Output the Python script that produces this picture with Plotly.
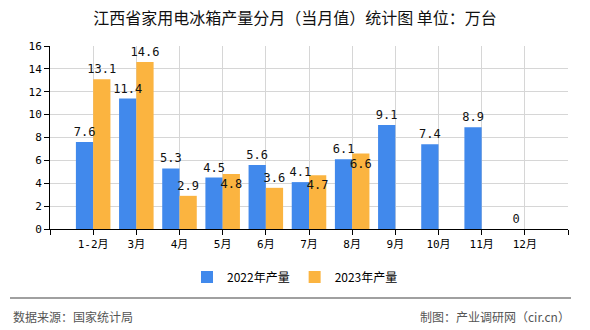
import plotly.graph_objects as go

months = ["1-2月", "3月", "4月", "5月", "6月", "7月", "8月", "9月", "10月", "11月", "12月"]
values_2022 = [7.6, 11.4, 5.3, 4.5, 5.6, 4.1, 6.1, 9.1, 7.4, 8.9, 0]
values_2023 = [13.1, 14.6, 2.9, 4.8, 3.6, 4.7, 6.6, None, None, None, None]
label_pos_2023 = ["outside", "outside", "outside", "inside", "outside", "inside", "inside",
                  "outside", "outside", "outside", "outside"]
series_names = ["2022年产量", "2023年产量"]
y_ticks = [0, 2, 4, 6, 8, 10, 12, 14, 16]

W, H = 590, 330
ML, MR, MT, MB = 50, 22, 46, 101
PW = W - ML - MR
PH = H - MT - MB

def px_to_paper_x(px):
    return (px - ML) / PW

def px_to_paper_y(py):
    return (H - MB - py) / PH

xpos = list(range(1, len(months) + 1))
tickvals = list(range(0, len(months) + 2))
ticktext = [""] + months + [""]

label_font = dict(family="DejaVu Sans Mono, Noto Sans CJK SC", size=12, color="#111")

fig = go.Figure()
fig.add_trace(go.Bar(
    x=xpos, y=values_2022, name=series_names[0], offsetgroup="g2022",
    marker=dict(color="#4189ec", line=dict(width=0)),
    hoverinfo="skip",
))
fig.add_trace(go.Bar(
    x=xpos, y=values_2023, name=series_names[1], offsetgroup="g2023",
    marker=dict(color="#fbb440", line=dict(width=0)),
    texttemplate="%{y}", textposition=label_pos_2023, textfont=label_font,
    insidetextfont=label_font, outsidetextfont=label_font,
    insidetextanchor="end", textangle=0,
    constraintext="none", cliponaxis=False,
))
# 2022 labels drawn on top of all bars (same slot as the 2022 bars)
fig.add_trace(go.Bar(
    x=xpos, y=values_2022, name=series_names[0], offsetgroup="g2022",
    marker=dict(color="rgba(0,0,0,0)", line=dict(width=0)),
    texttemplate="%{y}", textposition="outside", textfont=label_font,
    outsidetextfont=label_font, textangle=0,
    constraintext="none", cliponaxis=False, showlegend=False,
))

fig.update_layout(
    width=W, height=H,
    margin=dict(l=ML, r=MR, t=MT, b=MB),
    paper_bgcolor="white", plot_bgcolor="white",
    barmode="group", bargap=0.2, bargroupgap=0,
    font=dict(family="Noto Sans CJK SC", size=12, color="#000"),
    title=dict(
        text="江西省家用电冰箱产量分月（当月值）统计图 单位：万台",
        x=0.5, xref="container", xanchor="center",
        y=1 - 18 / H, yref="container", yanchor="middle",
        font=dict(family="Noto Sans CJK SC", size=16, color="#111"),
    ),
    xaxis=dict(
        range=[0, len(months) + 1],
        tickmode="array", tickvals=tickvals, ticktext=ticktext,
        showgrid=True, gridcolor="#d6d6d6", gridwidth=1,
        showline=True, linecolor="#000", linewidth=1,
        ticks="outside", ticklen=5, tickcolor="#000",
        tickfont=dict(family="DejaVu Sans Mono, Noto Sans CJK SC", size=11, color="#000"),
        zeroline=False, fixedrange=True,
    ),
    yaxis=dict(
        range=[0, 16], tickmode="array", tickvals=y_ticks,
        showgrid=True, gridcolor="#d6d6d6", gridwidth=1,
        showline=True, linecolor="#000", linewidth=1,
        ticks="outside", ticklen=5, tickcolor="#000",
        tickfont=dict(family="DejaVu Sans Mono", size=11, color="#000"),
        zeroline=False, fixedrange=True,
    ),
    legend=dict(
        orientation="h", x=0.5, xref="container", xanchor="center",
        y=1 - 277 / H, yref="container", yanchor="middle",
        font=dict(family="Noto Sans CJK SC", size=12, color="#000"),
        itemwidth=30, bgcolor="rgba(0,0,0,0)",
    ),
    showlegend=True,
)

# footer separator line
fig.add_shape(
    type="line", xref="paper", yref="paper",
    x0=px_to_paper_x(10), x1=px_to_paper_x(571),
    y0=px_to_paper_y(298), y1=px_to_paper_y(298),
    line=dict(color="#808080", width=1.5),
)

footer_font = dict(family="Noto Sans CJK SC", size=12, color="#555")
fig.add_annotation(
    text="数据来源：国家统计局", xref="paper", yref="paper",
    x=px_to_paper_x(11), y=px_to_paper_y(316),
    xanchor="left", yanchor="middle", showarrow=False, font=footer_font,
)
fig.add_annotation(
    text="制图：产业调研网（cir.cn）", xref="paper", yref="paper",
    x=px_to_paper_x(572), y=px_to_paper_y(316),
    xanchor="right", yanchor="middle", showarrow=False, font=footer_font,
)

fig.write_html("out.html")
